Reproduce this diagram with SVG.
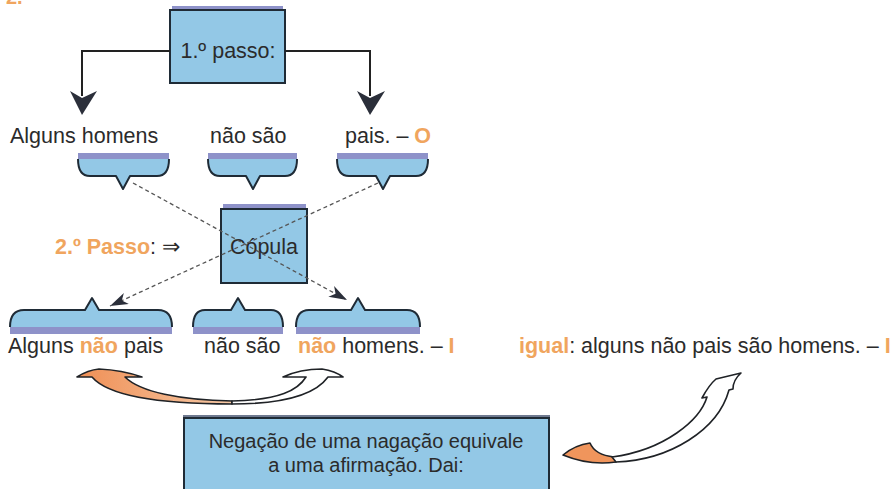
<svg xmlns="http://www.w3.org/2000/svg" width="891" height="489" viewBox="0 0 891 489">
<defs>
<style>
text{font-family:"Liberation Sans",Arial,sans-serif;font-size:21.5px;fill:#2b2b2b}
.or{fill:#f0a55e;font-weight:bold}
.box{fill:#93c8e6;stroke:#1f2b36;stroke-width:2}
.bar{fill:#8e92c9}
.bfill{fill:#93c8e6;stroke:none}
.bline{fill:none;stroke:#1f2b36;stroke-width:2;stroke-linejoin:round}
.conn{fill:none;stroke:#222;stroke-width:2}
.head{fill:#2b2f3a}
.dash{fill:none;stroke:#555;stroke-width:1.3;stroke-dasharray:4 3}
.sw{stroke:#1f2226;stroke-width:1.6;stroke-linejoin:round}
.small{font-size:20px}
</style>
<marker id="dashArrow" viewBox="0 0 18 12" refX="18" refY="6" markerUnits="userSpaceOnUse" markerWidth="18" markerHeight="12" orient="auto">
<path d="M0,0 L18,6 L0,12 L5,6 Z" fill="#2b2f3a"/>
</marker>
<linearGradient id="og" x1="0" y1="0" x2="1" y2="0">
<stop offset="0" stop-color="#ef8f55"/>
<stop offset="1" stop-color="#f6c9a6"/>
</linearGradient>
</defs>

<text x="6" y="4" class="or" style="font-size:20px">2.</text>

<g id="node-passo1">
<rect x="172" y="6" width="111" height="4" class="bar"/>
<rect x="170" y="10" width="115" height="73" class="box"/>
<text x="228" y="58" text-anchor="middle">1.º passo:</text>
</g>

<g id="node-alguns-homens">
<text x="10" y="143">Alguns homens</text>
<rect x="78" y="153" width="91" height="6" class="bar"/>
<path d="M78,159 H169 V162 Q169,176 157,176 H130 L123,189 L116,176 H90 Q78,176 78,162 Z" class="bfill"/>
<path d="M78,159 Q78,176 90,176 H116 L123,189 L130,176 H157 Q169,176 169,159" class="bline"/>
</g>

<g id="node-nao-sao-top">
<text x="210" y="143">não são</text>
<rect x="208" y="153" width="89" height="6" class="bar"/>
<path d="M208,159 H297 V162 Q297,176 285,176 H260 L253,189 L246,176 H220 Q208,176 208,162 Z" class="bfill"/>
<path d="M208,159 Q208,176 220,176 H246 L253,189 L260,176 H285 Q297,176 297,159" class="bline"/>
</g>

<g id="node-pais">
<text x="345" y="143">pais. – <tspan class="or">O</tspan></text>
<rect x="337" y="153" width="91" height="6" class="bar"/>
<path d="M337,159 H428 V162 Q428,176 416,176 H390 L383,189 L376,176 H349 Q337,176 337,162 Z" class="bfill"/>
<path d="M337,159 Q337,176 349,176 H376 L383,189 L390,176 H416 Q428,176 428,159" class="bline"/>
</g>

<g id="node-passo2">
<text x="55" y="254"><tspan class="or">2.º Passo</tspan>: ⇒</text>
</g>

<g id="node-copula">
<rect x="223" y="204" width="83" height="5" class="bar"/>
<rect x="221" y="209" width="86" height="74" class="box"/>
<text x="264" y="254" text-anchor="middle">Cópula</text>
</g>

<g id="node-alguns-nao-pais">
<path d="M10,327 Q10,310 24,310 H85 L92,298 L99,310 H158 Q172,310 172,327 Z" class="bfill"/>
<path d="M10,327 Q10,310 24,310 H85 L92,298 L99,310 H158 Q172,310 172,327" class="bline"/>
<rect x="10" y="327" width="162" height="7" class="bar"/>
<text x="8" y="353">Alguns <tspan class="or">não</tspan> pais</text>
</g>

<g id="node-nao-sao-bottom">
<path d="M193,327 Q193,310 205,310 H231 L238,298 L245,310 H271 Q283,310 283,327 Z" class="bfill"/>
<path d="M193,327 Q193,310 205,310 H231 L238,298 L245,310 H271 Q283,310 283,327" class="bline"/>
<rect x="193" y="327" width="90" height="7" class="bar"/>
<text x="204" y="353">não são</text>
</g>

<g id="node-nao-homens">
<path d="M296,327 Q296,310 309,310 H351 L358,298 L365,310 H407 Q420,310 420,327 Z" class="bfill"/>
<path d="M296,327 Q296,310 309,310 H351 L358,298 L365,310 H407 Q420,310 420,327" class="bline"/>
<rect x="296" y="327" width="124" height="7" class="bar"/>
<text x="298" y="353"><tspan class="or">não</tspan> homens. – <tspan class="or">I</tspan></text>
</g>

<g id="node-igual">
<text x="519" y="353"><tspan class="or">igual</tspan>: alguns não pais são homens. – <tspan class="or">I</tspan></text>
</g>

<g id="node-negacao">
<rect x="183" y="415" width="367" height="4" fill="#6f7a90"/>
<rect x="184" y="418" width="365" height="80" class="box"/>
<text x="366" y="448" text-anchor="middle" class="small">Negação de uma nagação equivale</text>
<text x="366" y="472" text-anchor="middle" class="small">a uma afirmação. Dai:</text>
</g>

<g id="connectors">
<path d="M170,51 H82 V96" class="conn"/>
<polygon points="70,91 82,98 97,91 82,115" class="head"/>
<path d="M285,51 H370 V96" class="conn"/>
<polygon points="357,91 370,98 385,91 370,115" class="head"/>
<line x1="133" y1="183" x2="347" y2="300" class="dash" marker-end="url(#dashArrow)"/>
<line x1="378" y1="183" x2="110" y2="306" class="dash" marker-end="url(#dashArrow)"/>
<path d="M77,377 Q88,370 99,369 Q122,370 142,377 L125,377 C140,392 180,400 232,401 L232,404 C170,404 110,398 92,377 Z" fill="url(#og)" class="sw"/>
<path d="M232,401 C280,400 298,390 306,377 L283,377 Q300,369 322,369 Q335,371 343,377 L328,377 C315,395 285,404 232,404 Z" fill="#ffffff" class="sw"/>
<path d="M563,455 Q575,445 590,443 Q595,455 614,457 L616,462 Q590,466 563,455 Z" fill="#f0955c" class="sw"/>
<path d="M612,457 C665,450 700,420 707,397 L702,398 Q709,385 716,379 L741,373 Q733,380 733,389 L729,390 C718,430 670,460 616,462 Z" fill="#ffffff" class="sw"/>
</g>
</svg>
